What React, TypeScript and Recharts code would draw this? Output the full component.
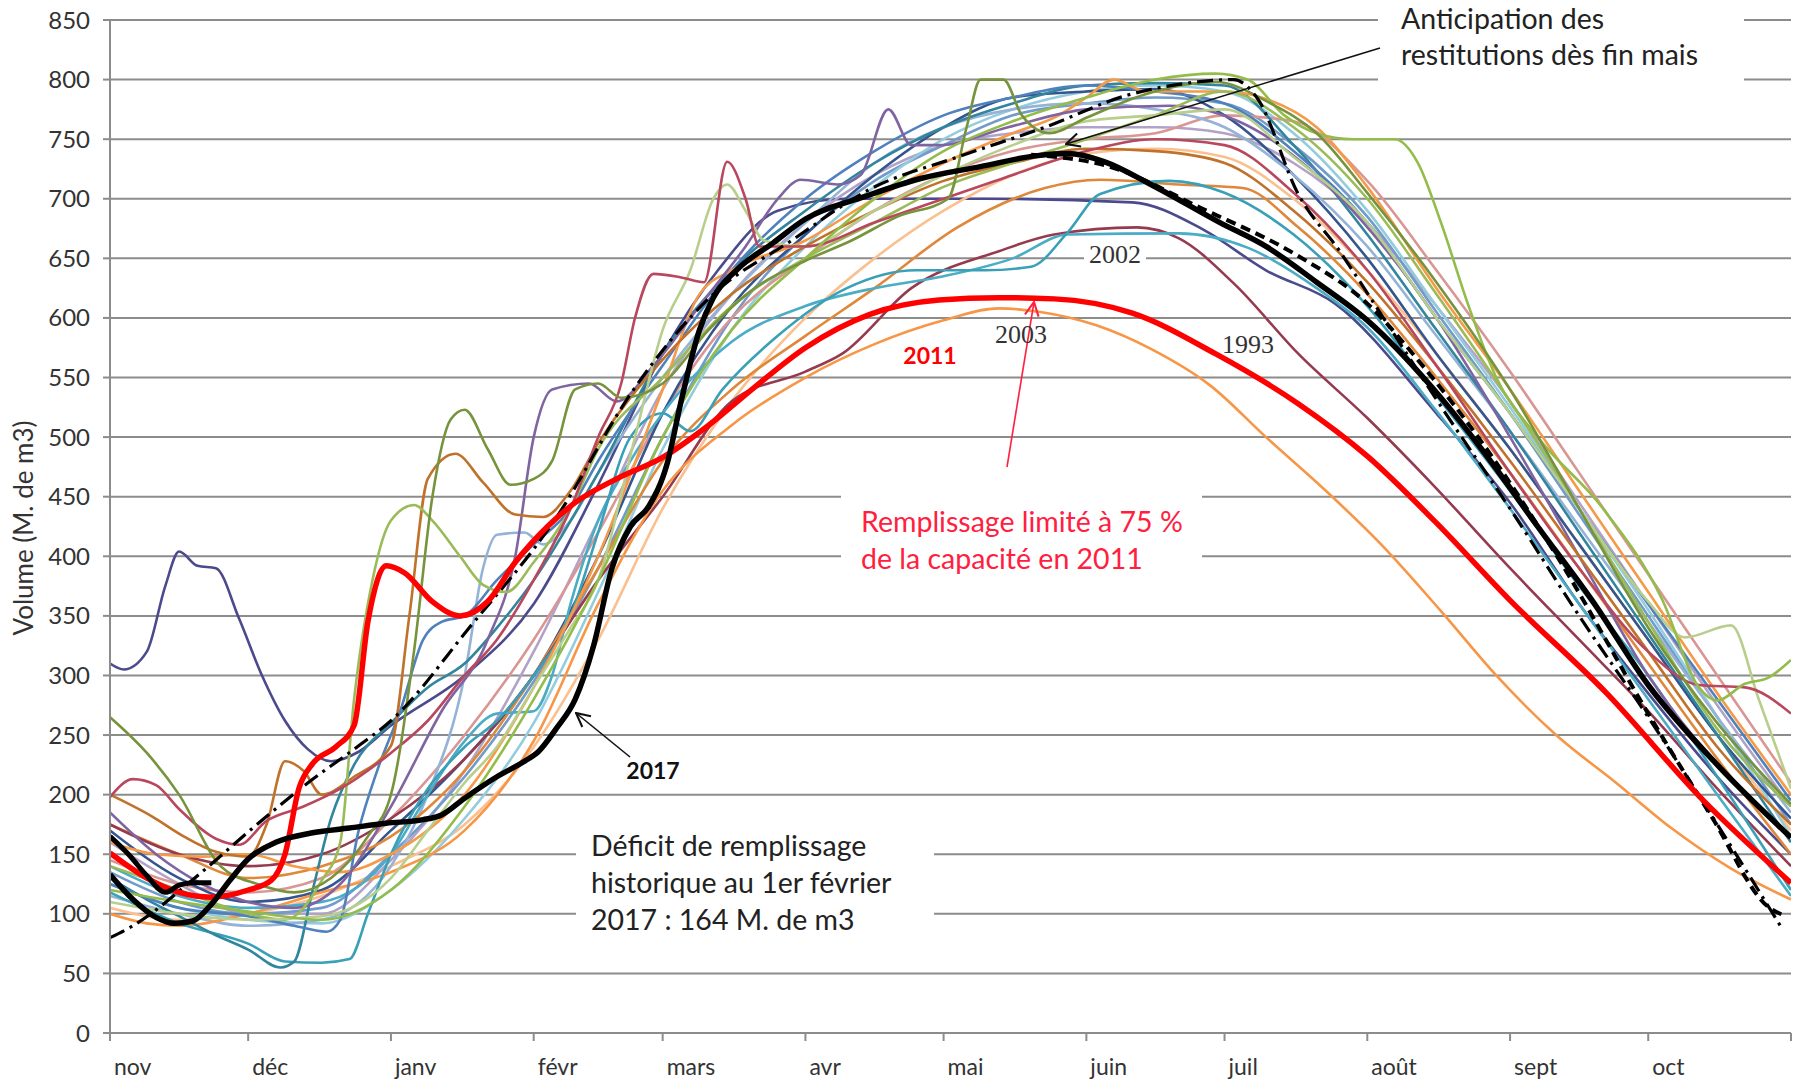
import React from "react";
import { CartesianGrid, Line, LineChart, XAxis, YAxis } from "recharts";

type Pt = [number, number];

// day 0 = 1 Nov, 365 = 31 Oct
const monthLabels = ["nov", "déc", "janv", "févr", "mars", "avr", "mai", "juin", "juil", "août", "sept", "oct", ""];
const monthStarts = [0, 30, 61, 92, 120, 151, 181, 212, 242, 273, 304, 334, 365];
const volumeTicks = [0, 50, 100, 150, 200, 250, 300, 350, 400, 450, 500, 550, 600, 650, 700, 750, 800, 850];

// highlighted years
const y2017: Pt[] = [[0,133],[5,112],[10,97],[14,92],[18,94],[22,108],[26,128],[30,146],[36,160],[44,168],[52,172],[60,176],[68,179],[72,183],[77,197],[84,215],[90,228],[93,236],[97,256],[101,280],[105,325],[109,390],[113,425],[117,442],[121,478],[124,530],[128,590],[131,617],[136,640],[144,663],[151,683],[164,702],[176,717],[189,727],[201,736],[208,738],[216,731],[226,712],[241,680],[251,660],[262,630],[273,598],[287,542],[298,489],[310,425],[322,362],[334,292],[349,225],[365,164]];
const y2018: Pt[] = [[0,165],[4,150],[8,132],[12,118],[15,124],[18,126],[22,126]];
const y2011: Pt[] = [[0,151],[8,130],[15,118],[22,114],[30,120],[35,128],[38,150],[41,205],[44,226],[49,240],[53,258],[56,345],[60,392],[64,386],[70,362],[76,350],[82,362],[88,395],[95,425],[101,445],[110,465],[120,483],[130,510],[140,542],[151,575],[165,603],[180,615],[193,617],[205,616],[222,604],[240,570],[258,528],[273,484],[288,428],[304,363],[325,285],[346,195],[365,126]];
const y2003: Pt[] = [[0,100],[8,92],[15,90],[30,100],[46,118],[61,135],[77,170],[92,245],[106,360],[120,455],[135,510],[151,550],[166,578],[181,598],[193,608],[202,605],[214,594],[226,574],[239,543],[251,500],[264,455],[276,410],[289,354],[301,300],[314,250],[327,210],[339,172],[352,138],[365,112]];
const y2002: Pt[] = [[0,140],[15,115],[30,105],[46,110],[61,150],[69,200],[77,245],[84,268],[92,270],[96,300],[100,360],[106,430],[113,480],[120,520],[135,580],[151,610],[166,625],[181,635],[196,650],[208,670],[232,671],[247,659],[262,625],[273,592],[288,522],[304,440],[319,360],[334,280],[349,200],[365,115]];
const y1993: Pt[] = [[0,175],[15,150],[30,140],[46,150],[61,180],[77,230],[92,300],[106,380],[120,450],[135,530],[151,555],[159,570],[174,625],[193,656],[205,670],[223,676],[232,667],[244,629],[258,570],[273,516],[287,461],[304,390],[319,330],[334,270],[349,205],[365,140]];
const guideCurve: Pt[] = [[0,80],[5,90],[19,132],[31,172],[43,210],[54,241],[61,262],[78,340],[97,433],[113,536],[131,620],[148,665],[165,708],[184,735],[203,760],[221,787],[232,796],[244,800],[249,785],[258,704],[267,656],[275,609],[290,520],[304,440],[319,350],[334,265],[349,175],[363,88]];
const forecast2017: Pt[] = [[200,737],[217,727],[237,692],[258,652],[273,612],[285,560],[298,495],[315,395],[334,268],[348,180],[360,106],[364,98]];

// other years
const sIndigo: Pt[] = [[0,310],[3,305],[8,320],[12,375],[15,404],[19,392],[23,390],[28,348],[33,300],[38,262],[43,238],[48,228],[54,236],[61,258],[77,300],[92,360],[106,460],[120,570],[132,640],[145,690],[160,700],[190,700],[222,697],[237,675],[251,640],[266,612],[288,520],[304,445],[319,360],[334,285],[349,215],[365,150]];
const sOlive: Pt[] = [[0,265],[8,235],[15,200],[24,140],[32,125],[40,118],[48,130],[56,165],[61,200],[66,320],[70,450],[74,515],[77,523],[82,490],[87,460],[92,465],[96,480],[101,540],[106,545],[111,533],[120,545],[130,590],[140,625],[151,648],[161,665],[171,685],[182,700],[186,760],[189,800],[194,800],[198,770],[204,755],[212,768],[225,788],[240,798],[252,780],[262,755],[273,705],[288,630],[304,540],[319,440],[334,340],[349,260],[365,192]];
const sRaspberry: Pt[] = [[0,198],[5,213],[10,208],[15,188],[23,163],[28,158],[34,178],[42,190],[50,205],[61,235],[69,262],[77,300],[84,330],[92,380],[100,440],[106,500],[111,545],[114,600],[118,637],[124,634],[129,630],[134,731],[138,700],[141,660],[151,660],[166,680],[181,700],[196,720],[212,740],[227,750],[242,745],[257,705],[273,640],[288,560],[304,470],[319,390],[334,320],[345,292],[355,290],[365,268]];
const sBrown: Pt[] = [[0,200],[9,182],[16,165],[23,152],[30,148],[34,175],[38,228],[42,220],[46,200],[53,215],[61,241],[65,350],[69,465],[75,486],[81,462],[88,435],[94,433],[100,455],[106,495],[120,565],[135,620],[151,660],[166,690],[181,715],[196,730],[212,742],[227,740],[242,730],[257,690],[273,630],[288,560],[304,480],[319,400],[334,320],[349,240],[365,175]];
const sGreen: Pt[] = [[0,140],[15,120],[30,100],[38,95],[46,128],[50,160],[53,280],[57,380],[61,430],[66,443],[70,430],[76,400],[81,376],[86,370],[92,395],[100,440],[106,490],[120,550],[135,610],[151,650],[166,680],[181,710],[196,730],[212,750],[227,770],[242,790],[257,760],[273,700],[288,620],[304,530],[319,440],[334,345],[349,255],[365,190]];
const sPurple: Pt[] = [[0,185],[10,150],[20,125],[30,110],[40,105],[50,125],[61,190],[72,270],[82,330],[88,400],[92,500],[96,540],[104,545],[110,530],[118,560],[128,610],[138,660],[145,700],[150,716],[158,712],[163,720],[169,775],[174,745],[180,745],[195,760],[212,775],[230,778],[245,765],[262,720],[288,600],[304,500],[319,400],[334,300],[349,225],[365,165]];
const sPaleGreen: Pt[] = [[0,110],[15,100],[30,95],[46,98],[61,130],[69,170],[77,210],[84,240],[92,290],[100,340],[106,380],[114,500],[120,590],[126,640],[131,700],[134,712],[138,690],[142,665],[151,660],[166,690],[181,720],[196,745],[212,765],[227,770],[242,775],[257,735],[273,680],[288,600],[304,520],[319,440],[334,362],[342,332],[352,342],[358,280],[365,205]];
const sLateGreen: Pt[] = [[0,120],[15,110],[30,102],[46,95],[61,120],[77,190],[92,280],[106,380],[120,500],[135,590],[151,650],[166,700],[181,740],[196,765],[212,785],[227,800],[240,805],[247,800],[255,770],[262,755],[270,750],[279,750],[284,730],[289,680],[295,610],[301,550],[310,500],[324,441],[337,364],[345,290],[349,279],[355,293],[360,298],[365,313]];
const sDarkTeal: Pt[] = [[0,130],[8,112],[15,98],[23,82],[30,70],[37,55],[40,60],[44,120],[48,180],[53,225],[61,260],[69,290],[77,310],[84,340],[92,380],[106,470],[120,570],[135,640],[151,690],[166,730],[181,760],[196,780],[212,795],[227,797],[242,795],[257,745],[273,670],[288,590],[304,505],[319,420],[334,335],[349,250],[365,160]];
const sTeal: Pt[] = [[0,118],[15,92],[30,75],[38,60],[46,59],[52,62],[56,100],[61,150],[69,205],[77,240],[84,262],[92,300],[100,350],[106,420],[113,500],[120,520],[126,505],[133,540],[145,585],[160,625],[175,640],[190,640],[200,643],[208,672],[215,704],[230,715],[242,705],[257,670],[273,610],[288,535],[304,455],[319,375],[334,300],[349,215],[365,120]];
const sBlue: Pt[] = [[0,125],[15,105],[30,98],[40,90],[47,85],[50,95],[54,170],[58,220],[63,270],[68,330],[72,345],[77,350],[84,380],[92,410],[100,440],[106,480],[120,560],[135,640],[151,700],[166,740],[181,770],[196,785],[212,795],[227,790],[242,780],[257,740],[273,680],[288,600],[304,520],[319,440],[334,360],[349,280],[365,195]];
const sNavy: Pt[] = [[0,170],[15,130],[30,110],[46,120],[61,170],[77,230],[92,300],[106,400],[120,520],[135,610],[151,670],[166,720],[181,760],[196,785],[212,790],[227,792],[242,770],[257,720],[273,650],[288,570],[304,490],[319,410],[334,330],[349,250],[365,180]];
const sLightBlue: Pt[] = [[0,115],[15,100],[30,90],[46,95],[61,140],[69,200],[77,300],[81,390],[84,418],[90,420],[94,410],[100,430],[106,470],[120,550],[135,620],[151,680],[166,730],[181,760],[196,775],[212,780],[227,775],[242,760],[257,720],[273,660],[288,585],[304,505],[319,425],[334,345],[349,265],[365,185]];
const sOrange: Pt[] = [[0,160],[10,150],[20,148],[30,150],[40,140],[50,135],[61,150],[77,200],[92,290],[106,400],[120,540],[128,620],[135,640],[151,665],[166,700],[181,730],[196,755],[206,770],[212,785],[218,800],[225,790],[242,790],[250,785],[262,760],[273,710],[288,625],[304,540],[319,455],[334,370],[349,285],[365,200]];
const sPeach: Pt[] = [[0,105],[15,95],[30,100],[46,115],[61,140],[77,175],[92,240],[106,330],[120,440],[135,530],[151,600],[166,650],[181,690],[196,720],[212,738],[227,742],[242,735],[257,700],[273,640],[288,570],[304,490],[319,410],[334,330],[349,250],[365,170]];
const sDarkOrange: Pt[] = [[0,175],[15,150],[30,130],[46,140],[61,165],[77,220],[92,300],[106,390],[120,480],[135,540],[151,585],[166,625],[184,676],[203,709],[215,716],[232,712],[246,709],[258,676],[273,620],[288,550],[304,470],[319,390],[334,310],[349,230],[365,150]];
const sLavender: Pt[] = [[0,160],[15,125],[30,100],[46,100],[61,145],[77,220],[92,320],[106,430],[120,540],[135,620],[151,680],[166,720],[181,745],[196,755],[212,760],[227,760],[242,755],[257,730],[273,680],[288,610],[304,530],[319,445],[334,360],[349,275],[365,190]];
const sPink: Pt[] = [[0,145],[15,125],[30,118],[46,130],[61,180],[77,250],[92,330],[106,420],[120,520],[135,600],[151,650],[166,690],[181,720],[196,740],[212,750],[227,755],[242,770],[257,765],[273,715],[288,640],[304,555],[319,470],[334,385],[349,300],[365,210]];
const sLightAqua: Pt[] = [[0,125],[15,105],[30,95],[46,92],[61,120],[77,180],[92,260],[106,370],[120,490],[135,590],[151,660],[166,710],[181,750],[196,775],[212,790],[227,795],[242,790],[257,755],[273,690],[288,610],[304,525],[319,440],[334,355],[349,265],[365,165]];
const sSkyBlue: Pt[] = [[0,135],[15,110],[30,100],[46,105],[61,150],[77,215],[92,295],[106,390],[120,500],[135,600],[151,670],[166,715],[181,745],[196,770],[212,780],[227,785],[242,780],[257,745],[273,685],[288,605],[304,520],[319,435],[334,350],[349,265],[365,175]];

const otherYears = [
  { name: "indigo", color: "#4B4A8C", pts: sIndigo },
  { name: "peach", color: "#FAC090", pts: sPeach },
  { name: "lavender", color: "#B3A2C7", pts: sLavender },
  { name: "skyblue", color: "#729ACA", pts: sSkyBlue },
  { name: "lightaqua", color: "#93CDDD", pts: sLightAqua },
  { name: "pink", color: "#D99694", pts: sPink },
  { name: "navy", color: "#34558E", pts: sNavy },
  { name: "lightblue", color: "#95B3D7", pts: sLightBlue },
  { name: "darkorange", color: "#E0883A", pts: sDarkOrange },
  { name: "1993", color: "#953A4F", pts: y1993 },
  { name: "2003", color: "#F79646", pts: y2003 },
  { name: "2002", color: "#4BACC6", pts: y2002 },
  { name: "teal", color: "#3AA0B8", pts: sTeal },
  { name: "darkteal", color: "#31859C", pts: sDarkTeal },
  { name: "blue", color: "#4F81BD", pts: sBlue },
  { name: "orange", color: "#F59A48", pts: sOrange },
  { name: "purple", color: "#8064A2", pts: sPurple },
  { name: "brown", color: "#C0712A", pts: sBrown },
  { name: "green", color: "#9BBB59", pts: sGreen },
  { name: "palegreen", color: "#B8CF8C", pts: sPaleGreen },
  { name: "raspberry", color: "#B9475E", pts: sRaspberry },
  { name: "lategreen", color: "#93BC4A", pts: sLateGreen },
  { name: "olive", color: "#77933C", pts: sOlive },
];

const toData = (pts: Pt[]) => pts.map(([d, v]) => ({ d, v }));

const FONT = "Lato, 'Open Sans', sans-serif";
const SERIF = "'Liberation Serif', serif";
const GRID = "#8c8c8c";

function MonthTick(props: any) {
  const { x, y, payload } = props;
  const label = monthLabels[monthStarts.indexOf(payload.value)];
  if (!label) return null;
  return (
    <text x={x + 4} y={y} dy="0.71em" fontSize={23} fill="#333" fontFamily={FONT} textAnchor="start">
      {label}
    </text>
  );
}

export default function App() {
  return (
    <div style={{ position: "absolute", left: 0, top: 0, width: 1808, height: 1082, background: "#fff" }}>
      <LineChart width={1808} height={1082} margin={{ top: 20, right: 17, bottom: 0, left: 20 }}>
        <CartesianGrid vertical={false} stroke={GRID} strokeWidth={2} />
        <XAxis
          type="number"
          dataKey="d"
          domain={[0, 365]}
          ticks={monthStarts}
          interval={0}
          height={49}
          tickSize={8}
          tickMargin={18}
          axisLine={{ stroke: GRID, strokeWidth: 2 }}
          tickLine={{ stroke: GRID, strokeWidth: 2 }}
          tick={(p: any) => <MonthTick {...p} />}
          allowDataOverflow
        />
        <YAxis
          type="number"
          domain={[0, 850]}
          ticks={volumeTicks}
          interval={0}
          width={90}
          tickSize={7}
          tickMargin={13}
          axisLine={{ stroke: GRID, strokeWidth: 2 }}
          tickLine={{ stroke: GRID, strokeWidth: 2 }}
          tick={{ fontSize: 24, fill: "#333", fontFamily: FONT }}
        />
        {otherYears.map((s) => (
          <Line
            key={s.name}
            data={toData(s.pts)}
            dataKey="v"
            type="monotone"
            stroke={s.color}
            strokeWidth={2.6}
            dot={false}
            isAnimationActive={false}
          />
        ))}
        <Line data={toData(guideCurve)} dataKey="v" type="monotone" stroke="#000" strokeWidth={3.2} strokeDasharray="16 6 3 6" dot={false} isAnimationActive={false} />
        <Line data={toData(forecast2017)} dataKey="v" type="monotone" stroke="#000" strokeWidth={4} strokeDasharray="10 6" dot={false} isAnimationActive={false} />
        <Line data={toData(y2011)} dataKey="v" type="monotone" stroke="#FF0000" strokeWidth={5.5} dot={false} isAnimationActive={false} />
        <Line data={toData(y2017)} dataKey="v" type="monotone" stroke="#000" strokeWidth={5.5} dot={false} isAnimationActive={false} />
        <Line data={toData(y2018)} dataKey="v" type="monotone" stroke="#000" strokeWidth={5} dot={false} isAnimationActive={false} />
      </LineChart>

      <svg width={1808} height={1082} style={{ position: "absolute", left: 0, top: 0, pointerEvents: "none" }}>
        <defs>
          <marker id="arrBlack" viewBox="0 0 14 14" refX="13" refY="7" markerWidth="16" markerHeight="16" orient="auto" markerUnits="userSpaceOnUse">
            <path d="M1,1 L13,7 L1,13" fill="none" stroke="#111" strokeWidth="1.8" />
          </marker>
          <marker id="arrRed" viewBox="0 0 14 14" refX="13" refY="7" markerWidth="16" markerHeight="16" orient="auto" markerUnits="userSpaceOnUse">
            <path d="M1,1 L13,7 L1,13" fill="none" stroke="#FF2040" strokeWidth="1.8" />
          </marker>
        </defs>

        <text x={23} y={528} transform="rotate(-90 23 528)" textAnchor="middle" dominantBaseline="central" fontSize={26} fill="#333" fontFamily={FONT}>
          Volume (M. de m3)
        </text>

        <rect x={1378} y={0} width={366} height={105} fill="#fff" />
        <text x={1401} y={18} dominantBaseline="central" fontSize={28.5} fill="#222" fontFamily={FONT}>Anticipation des</text>
        <text x={1401} y={54} dominantBaseline="central" fontSize={28.5} fill="#222" fontFamily={FONT}>restitutions dès fin mais</text>
        <line x1={1380} y1={48} x2={1066} y2={144} stroke="#111" strokeWidth={1.6} markerEnd="url(#arrBlack)" />

        <rect x={841} y={472} width={361} height={125} fill="#fff" />
        <text x={861} y={521} dominantBaseline="central" fontSize={28.5} fill="#FF2040" fontFamily={FONT}>Remplissage limité à 75 %</text>
        <text x={861} y={558} dominantBaseline="central" fontSize={28.5} fill="#FF2040" fontFamily={FONT}>de la capacité en 2011</text>
        <line x1={1007} y1={467} x2={1034} y2={302} stroke="#FF2040" strokeWidth={1.6} markerEnd="url(#arrRed)" />

        <rect x={576} y={815} width={358} height={128} fill="#fff" />
        <text x={591} y={845} dominantBaseline="central" fontSize={28.5} fill="#222" fontFamily={FONT}>Déficit de remplissage</text>
        <text x={591} y={882} dominantBaseline="central" fontSize={28.5} fill="#222" fontFamily={FONT}>historique au 1er février</text>
        <text x={591} y={919} dominantBaseline="central" fontSize={28.5} fill="#222" fontFamily={FONT}>2017 : 164 M. de m3</text>

        <text x={653} y={770} textAnchor="middle" dominantBaseline="central" fontSize={23} fontWeight="bold" fill="#111" fontFamily={FONT}>2017</text>
        <line x1={630} y1={757} x2={576} y2={713} stroke="#111" strokeWidth={1.6} markerEnd="url(#arrBlack)" />

        <text x={930} y={355} textAnchor="middle" dominantBaseline="central" fontSize={23} fontWeight="bold" fill="#FF0000" fontFamily={FONT}>2011</text>

        <rect x={1084} y={242} width={62} height={25} fill="#fff" />
        <text x={1115} y={254} textAnchor="middle" dominantBaseline="central" fontSize={26} fill="#333" fontFamily={SERIF}>2002</text>
        <text x={1021} y={334} textAnchor="middle" dominantBaseline="central" fontSize={26} fill="#333" fontFamily={SERIF}>2003</text>
        <text x={1248} y={344} textAnchor="middle" dominantBaseline="central" fontSize={26} fill="#333" fontFamily={SERIF}>1993</text>
      </svg>
    </div>
  );
}
